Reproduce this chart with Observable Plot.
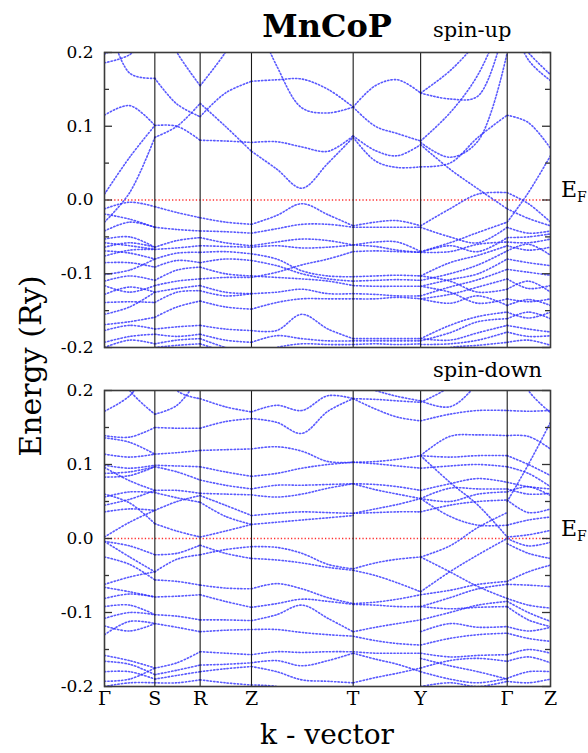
<!DOCTYPE html>
<html><head><meta charset="utf-8">
<script src="https://cdn.jsdelivr.net/npm/d3@7"></script>
<script src="https://cdn.jsdelivr.net/npm/@observablehq/plot@0.6"></script>
<style>
body{margin:0;background:#fff;}
#c{position:relative;width:588px;height:753px;overflow:hidden;font-family:"DejaVu Serif",serif;color:#000;}
#c svg{position:absolute;left:0;}
.t{position:absolute;white-space:nowrap;line-height:1;}
</style></head><body><div id="c"></div>
<script>
// high-symmetry points (path coordinate) and labels
const kTicks = [0, 50, 95, 146, 247, 314, 400, 443];
const kLabels = ["Γ", "S", "R", "Z", "T", "Y", "Γ", "Z"];
const yTicks = [-0.2, -0.1, 0, 0.1, 0.2];
const yTickLabels = ["-0.2", "-0.1", "0.0", "0.1", "0.2"];
const yMinor = [-0.15, -0.05, 0.05, 0.15];

// sample k positions in each path segment
const kGS = [0, 25, 50];
const kSR = [50, 72, 95];
const kRZ = [95, 120, 146];
const kZT = [146, 171, 196, 222, 247];
const kTY = [247, 269, 291, 314];
const kYG = [314, 343, 371, 400];
const kGZ = [400, 421, 443];

// ---- spin-up bands (Ry), one row per band, values at the segment's k samples ----
const upGS = [
 [0.198,0.215,0.24],[0.186,0.197,0.23],[0.26,0.172,0.165],[0.115,0.128,0.101],
 [0.008,0.058,0.101],[-0.03,0.01,0.085],
 [-0.012,-0.003,-0.009],[-0.019,-0.026,-0.037],[-0.042,-0.03,-0.037],[-0.053,-0.05,-0.064],
 [-0.058,-0.062,-0.067],[-0.064,-0.058,-0.064],[-0.069,-0.072,-0.08],[-0.076,-0.068,-0.067],
 [-0.085,-0.085,-0.091],[-0.101,-0.095,-0.08],[-0.11,-0.103,-0.109],[-0.116,-0.125,-0.116],
 [-0.128,-0.118,-0.125],[-0.139,-0.138,-0.139],[-0.155,-0.145,-0.125],[-0.169,-0.165,-0.159],
 [-0.177,-0.17,-0.175],[-0.193,-0.185,-0.182],[-0.2,-0.19,-0.195]
];
const upSR = [
 [0.165,0.13,0.113],[0.101,0.1,0.081],[0.085,0.1,0.131],[0.26,0.2,0.155],
 [-0.009,-0.017,-0.024],[-0.037,-0.04,-0.042],[-0.064,-0.055,-0.051],[-0.067,-0.065,-0.062],
 [-0.08,-0.072,-0.071],[-0.091,-0.082,-0.085],[-0.109,-0.095,-0.091],[-0.116,-0.11,-0.107],
 [-0.125,-0.12,-0.116],[-0.139,-0.125,-0.123],[-0.159,-0.145,-0.137],[-0.175,-0.172,-0.17],
 [-0.182,-0.185,-0.182],[-0.195,-0.19,-0.188],[-0.2,-0.197,-0.195]
];
const upRZ = [
 [0.155,0.2,0.26],[0.113,0.145,0.161],[0.131,0.1,0.066],[0.081,0.08,0.078],
 [-0.024,-0.03,-0.033],[-0.042,-0.043,-0.045],[-0.051,-0.058,-0.062],[-0.062,-0.063,-0.064],
 [-0.071,-0.07,-0.073],[-0.085,-0.08,-0.082],[-0.091,-0.1,-0.103],[-0.107,-0.105,-0.105],
 [-0.116,-0.125,-0.127],[-0.123,-0.13,-0.127],[-0.137,-0.145,-0.148],[-0.17,-0.175,-0.177],
 [-0.182,-0.19,-0.193],[-0.188,-0.2,-0.21],[-0.195,-0.205,-0.21]
];
const upZT = [
 [0.161,0.163,0.164,0.15,0.126],[0.26,0.182,0.125,0.118,0.126],
 [0.078,0.079,0.072,0.066,0.087],[0.066,0.042,0.016,0.05,0.085],
 [-0.033,-0.021,-0.005,-0.02,-0.035],[-0.045,-0.039,-0.033,-0.033,-0.037],
 [-0.062,-0.057,-0.053,-0.055,-0.061],[-0.064,-0.062,-0.065,-0.064,-0.061],
 [-0.073,-0.08,-0.096,-0.103,-0.104],[-0.082,-0.089,-0.1,-0.107,-0.11],
 [-0.103,-0.105,-0.107,-0.11,-0.116],[-0.105,-0.098,-0.088,-0.08,-0.07],
 [-0.127,-0.125,-0.121,-0.127,-0.127],[-0.148,-0.139,-0.134,-0.134,-0.134],
 [-0.177,-0.177,-0.155,-0.175,-0.188],[-0.193,-0.184,-0.188,-0.191,-0.191],
 [-0.21,-0.2,-0.195,-0.196,-0.196]
];
const upTY = [
 [0.126,0.155,0.163,0.145],[0.126,0.1,0.09,0.08],[0.087,0.067,0.06,0.075],[0.085,0.053,0.044,0.045],
 [-0.035,-0.03,-0.028,-0.035],[-0.037,-0.037,-0.037,-0.037],[-0.061,-0.057,-0.057,-0.07],
 [-0.061,-0.063,-0.068,-0.071],[-0.07,-0.069,-0.07,-0.071],[-0.104,-0.103,-0.102,-0.103],
 [-0.11,-0.109,-0.108,-0.109],[-0.116,-0.117,-0.117,-0.117],[-0.127,-0.128,-0.13,-0.13],
 [-0.134,-0.134,-0.132,-0.134],[-0.188,-0.188,-0.188,-0.188],[-0.191,-0.191,-0.191,-0.191],
 [-0.196,-0.195,-0.196,-0.195]
];
const upYG = [
 [0.145,0.175,0.215,0.26],[0.145,0.137,0.141,0.25],[0.08,0.118,0.17,0.26],
 [0.075,0.042,0.015,-0.012],[0.045,0.05,0.085,0.115],[0.078,0.058,0.08,0.2],
 [-0.035,-0.012,0.008,0.01],[-0.037,-0.05,-0.058,-0.037],[-0.07,-0.058,-0.044,-0.03],
 [-0.071,-0.062,-0.07,-0.051],[-0.071,-0.07,-0.06,-0.057],[-0.103,-0.085,-0.075,-0.062],
 [-0.109,-0.1,-0.088,-0.069],[-0.117,-0.108,-0.1,-0.08],[-0.13,-0.118,-0.108,-0.094],
 [-0.134,-0.128,-0.118,-0.107],[-0.103,-0.11,-0.125,-0.121],[-0.117,-0.125,-0.14,-0.134],
 [-0.134,-0.14,-0.13,-0.143],[-0.188,-0.17,-0.158,-0.152],[-0.191,-0.18,-0.165,-0.161],
 [-0.188,-0.19,-0.18,-0.17],[-0.196,-0.195,-0.19,-0.179],[-0.21,-0.2,-0.197,-0.193]
];
const upGZ = [
 [0.115,0.105,0.07],[0.26,0.19,0.162],[0.24,0.2,0.17],[-0.03,0.01,0.06],
 [0.01,-0.005,-0.03],[-0.012,-0.025,-0.035],
 [-0.037,-0.045,-0.042],[-0.051,-0.05,-0.046],[-0.057,-0.058,-0.053],[-0.062,-0.068,-0.064],
 [-0.069,-0.06,-0.075],[-0.08,-0.085,-0.089],[-0.094,-0.098,-0.102],[-0.107,-0.12,-0.116],
 [-0.121,-0.11,-0.125],[-0.134,-0.138,-0.134],[-0.143,-0.135,-0.143],[-0.152,-0.16,-0.152],
 [-0.161,-0.152,-0.161],[-0.17,-0.175,-0.179],[-0.179,-0.185,-0.184],[-0.193,-0.19,-0.197]
];

// ---- spin-down bands (Ry) ----
const dnGS = [
 [0.172,0.193,0.24],[0.26,0.2,0.168],[0.139,0.137,0.15],[0.136,0.13,0.114],[0.114,0.11,0.114],
 [0.099,0.095,0.099],[0.088,0.09,0.097],[0.083,0.085,0.097],[0.096,0.078,0.065],[0.06,0.048,0.02],
 [0.056,0.063,0.062],[0.045,0.053,0.065],[0.036,0.04,0.038],[0.002,0.022,0.038],
 [-0.004,-0.01,-0.022],[-0.004,-0.025,-0.045],[-0.025,-0.035,-0.056],[-0.062,-0.052,-0.045],
 [-0.066,-0.072,-0.079],[-0.081,-0.075,-0.079],[-0.092,-0.09,-0.103],[-0.108,-0.1,-0.103],
 [-0.118,-0.125,-0.115],[-0.13,-0.112,-0.115],[-0.158,-0.165,-0.175],[-0.166,-0.17,-0.184],
 [-0.18,-0.18,-0.19],[-0.193,-0.19,-0.175],[-0.2,-0.195,-0.195]
];
const dnSR = [
 [0.168,0.18,0.22],[0.26,0.2,0.189],[0.15,0.149,0.149],[0.114,0.116,0.119],[0.099,0.098,0.097],
 [0.097,0.09,0.079],[0.065,0.065,0.061],[0.062,0.055,0.049],[0.038,0.05,0.058],[0.02,0.01,0.002],
 [-0.022,-0.02,-0.009],[-0.045,-0.028,-0.022],[-0.056,-0.058,-0.063],[-0.079,-0.078,-0.076],
 [-0.103,-0.105,-0.11],[-0.115,-0.12,-0.126],[-0.175,-0.168,-0.153],[-0.184,-0.178,-0.171],
 [-0.19,-0.185,-0.18],[-0.195,-0.195,-0.191]
];
const dnRZ = [
 [0.189,0.178,0.171],[0.149,0.158,0.162],[0.119,0.12,0.121],[0.097,0.09,0.084],[0.079,0.072,0.067],
 [0.061,0.06,0.059],[0.058,0.045,0.031],[0.049,0.03,0.019],[0.002,0.01,0.019],
 [-0.009,-0.02,-0.027],[-0.022,-0.015,-0.011],[-0.063,-0.067,-0.068],[-0.076,-0.085,-0.093],
 [-0.11,-0.11,-0.111],[-0.126,-0.124,-0.123],[-0.153,-0.155,-0.157],[-0.171,-0.17,-0.168],
 [-0.18,-0.176,-0.173],[-0.191,-0.195,-0.198]
];
const dnZT = [
 [0.171,0.18,0.173,0.193,0.189],[0.162,0.157,0.142,0.172,0.189],[0.121,0.124,0.118,0.104,0.103],
 [0.084,0.088,0.095,0.1,0.103],[0.067,0.072,0.072,0.073,0.074],[0.059,0.056,0.06,0.068,0.074],
 [0.031,0.034,0.036,0.035,0.034],[0.019,0.022,0.025,0.028,0.031],
 [-0.011,-0.012,-0.02,-0.035,-0.041],[-0.027,-0.029,-0.033,-0.039,-0.043],
 [-0.068,-0.061,-0.068,-0.08,-0.088],[-0.093,-0.088,-0.082,-0.085,-0.089],
 [-0.111,-0.103,-0.09,-0.108,-0.126],[-0.123,-0.123,-0.127,-0.13,-0.132],
 [-0.157,-0.153,-0.154,-0.153,-0.153],[-0.168,-0.165,-0.172,-0.165,-0.155],
 [-0.173,-0.18,-0.191,-0.193,-0.195],[-0.198,-0.2,-0.21,-0.21,-0.2]
];
const dnTY = [
 [0.189,0.188,0.186,0.184],[0.21,0.2,0.192,0.186],[0.189,0.175,0.164,0.159],
 [0.103,0.104,0.107,0.112],[0.103,0.101,0.098,0.095],[0.074,0.073,0.07,0.065],
 [0.074,0.066,0.06,0.054],[0.034,0.04,0.046,0.054],[0.034,0.035,0.036,0.036],
 [-0.041,-0.033,-0.028,-0.025],[-0.043,-0.05,-0.06,-0.072],[-0.088,-0.086,-0.082,-0.076],
 [-0.089,-0.09,-0.092,-0.092],[-0.126,-0.12,-0.115,-0.11],[-0.132,-0.138,-0.142,-0.144],
 [-0.153,-0.155,-0.155,-0.155],[-0.155,-0.163,-0.17,-0.18],[-0.195,-0.188,-0.182,-0.175]
];
const dnYG = [
 [0.184,0.205,0.24,0.26],[0.186,0.178,0.21,0.26],[0.159,0.168,0.173,0.173],
 [0.112,0.138,0.14,0.139],[0.112,0.11,0.112,0.112],[0.095,0.098,0.1,0.097],
 [0.065,0.074,0.081,0.076],[0.054,0.068,0.067,0.067],[0.054,0.05,0.06,0.063],
 [0.036,0.045,0.05,0.052],[0.112,0.076,0.045,0.002],[0.054,0.03,0.018,0.018],
 [-0.025,-0.01,0.015,0.035],[-0.072,-0.045,-0.022,0.0],[-0.076,-0.07,-0.062,-0.058],
 [-0.092,-0.08,-0.068,-0.062],[-0.025,-0.045,-0.065,-0.081],[-0.11,-0.1,-0.09,-0.085],
 [-0.092,-0.095,-0.093,-0.092],[-0.126,-0.115,-0.12,-0.119],[-0.144,-0.135,-0.13,-0.128],
 [-0.155,-0.16,-0.158,-0.157],[-0.175,-0.165,-0.162,-0.166],[-0.18,-0.19,-0.195,-0.189],
 [-0.162,-0.172,-0.18,-0.19],[-0.2,-0.195,-0.2,-0.193]
];
const dnGZ = [
 [0.173,0.172,0.173],[0.26,0.2,0.17],[0.139,0.138,0.121],[0.05,0.1,0.157],[0.112,0.1,0.085],
 [0.097,0.088,0.07],[0.076,0.07,0.067],[0.067,0.06,0.061],[0.063,0.07,0.058],[0.052,0.035,0.04],
 [0.018,0.025,0.029],[0.002,0.005,0.011],[0.0,-0.01,-0.005],[-0.007,-0.02,-0.027],
 [-0.058,-0.045,-0.036],[-0.062,-0.063,-0.065],[-0.081,-0.09,-0.094],[-0.085,-0.1,-0.112],
 [-0.092,-0.11,-0.119],[-0.119,-0.125,-0.12],[-0.128,-0.135,-0.139],[-0.157,-0.15,-0.155],
 [-0.166,-0.16,-0.168],[-0.189,-0.18,-0.18],[-0.193,-0.195,-0.19]
];

function bandRows(segs) {
  const out = []; let id = 0;
  for (const [ks, bands] of segs) for (const b of bands) {
    b.forEach((e, i) => out.push({k: ks[i], e, id}));
    id++;
  }
  return out;
}
const upRows = bandRows([[kGS,upGS],[kSR,upSR],[kRZ,upRZ],[kZT,upZT],[kTY,upTY],[kYG,upYG],[kGZ,upGZ]]);
const dnRows = bandRows([[kGS,dnGS],[kSR,dnSR],[kRZ,dnRZ],[kZT,dnZT],[kTY,dnTY],[kYG,dnYG],[kGZ,dnGZ]]);

const ML = 104, MR = 38, W = 588, FW = W - ML - MR;

function panel(rows, {height, mt, mb, xAxis}) {
  const marks = [
    Plot.ruleY([0], {stroke: "#ff3030", strokeWidth: 1.3, strokeDasharray: "1.3,2.1"}),
    Plot.line(rows, {x: "k", y: "e", z: "id", curve: "catmull-rom", clip: true,
      stroke: "#2f2fff", strokeWidth: 1.6, strokeOpacity: 0.8, strokeDasharray: "1.3,2.1"}),
    Plot.ruleX(kTicks.slice(1, -1), {stroke: "#1a1a1a", strokeWidth: 1.1}),
    Plot.axisY({anchor: "left", ticks: yTicks, tickSize: 0, tickPadding: 11, label: null,
      fontSize: 17, tickFormat: d => yTickLabels[yTicks.indexOf(d)]}),
    // inward ticks on both sides
    Plot.tickY(yTicks, {y: d => d, stroke: "#333", strokeWidth: 1.3, insetRight: FW - 8}),
    Plot.tickY(yMinor, {y: d => d, stroke: "#333", strokeWidth: 1.3, insetRight: FW - 5}),
    Plot.tickY(yTicks, {y: d => d, stroke: "#333", strokeWidth: 1.3, insetLeft: FW - 8}),
    Plot.tickY(yMinor, {y: d => d, stroke: "#333", strokeWidth: 1.3, insetLeft: FW - 5}),
    Plot.frame({stroke: "#3a3a3a", strokeWidth: 1.6})
  ];
  if (xAxis) marks.push(Plot.axisX({ticks: kTicks, tickSize: 0, tickPadding: 5, label: null,
      fontSize: 19, tickFormat: d => kLabels[kTicks.indexOf(d)]}));
  return Plot.plot({
    width: W, height, marginLeft: ML, marginRight: MR, marginTop: mt, marginBottom: mb,
    x: {domain: [0, 443], axis: xAxis ? undefined : null},
    y: {domain: [-0.2, 0.2], axis: null},
    style: {fontFamily: "DejaVu Serif", fontSize: "17px", color: "#000", background: "transparent", overflow: "visible"},
    marks
  });
}

const box = document.getElementById("c");
const upPlot = panel(upRows, {height: 360, mt: 52, mb: 13, xAxis: false});
upPlot.style.top = "0px";
const dnPlot = panel(dnRows, {height: 393, mt: 30, mb: 67, xAxis: true});
dnPlot.style.top = "360px";
box.appendChild(upPlot);
box.appendChild(dnPlot);

function txt(html, css) {
  const d = document.createElement("div");
  d.className = "t"; d.innerHTML = html; Object.assign(d.style, css); box.appendChild(d);
}
txt("MnCoP", {left: "327px", top: "10px", fontSize: "32px", fontWeight: "bold", transform: "translateX(-50%)"});
txt("spin-up", {left: "433px", top: "20px", fontSize: "21px"});
txt("spin-down", {left: "433px", top: "360px", fontSize: "21px"});
txt("E<sub style='font-size:14px;vertical-align:-5px'>F</sub>", {left: "561px", top: "179px", fontSize: "22px"});
txt("E<sub style='font-size:14px;vertical-align:-5px'>F</sub>", {left: "561px", top: "518px", fontSize: "22px"});
txt("Energy (Ry)", {left: "31px", top: "366px", fontSize: "30px", transform: "translate(-50%,-50%) rotate(-90deg)"});
txt("k - vector", {left: "327px", top: "721px", fontSize: "28px", transform: "translateX(-50%)"});
</script></body></html>
